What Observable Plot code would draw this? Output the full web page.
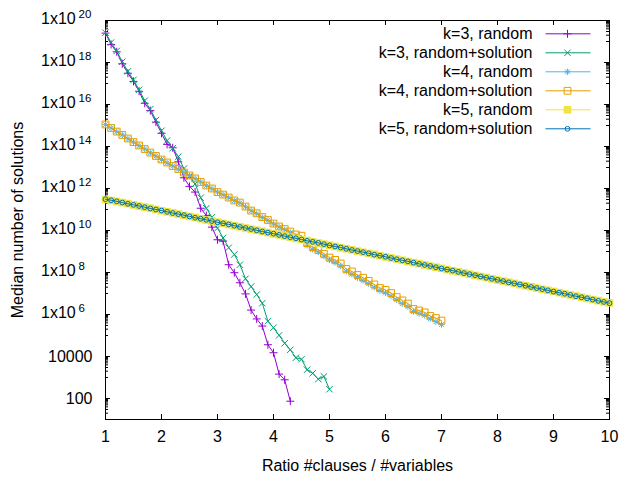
<!DOCTYPE html>
<html>
<head>
<meta charset="utf-8">
<script src="https://cdn.jsdelivr.net/npm/d3@7"></script>
<script src="https://cdn.jsdelivr.net/npm/@observablehq/plot@0.6"></script>
<style>
  html, body { margin: 0; padding: 0; background: #fff; }
  svg { display: block; }
</style>
</head>
<body>
<div id="chart"></div>
<script>
// ---- Data ----
const ratio = [
  1.0, 1.1, 1.2, 1.3, 1.4, 1.5, 1.6, 1.7, 1.8, 1.9,
  2.0, 2.1, 2.2, 2.3, 2.4, 2.5, 2.6, 2.7, 2.8, 2.9,
  3.0, 3.1, 3.2, 3.3, 3.4, 3.5, 3.6, 3.7, 3.8, 3.9,
  4.0, 4.1, 4.2, 4.3, 4.4, 4.5, 4.6, 4.7, 4.8, 4.9,
  5.0, 5.1, 5.2, 5.3, 5.4, 5.5, 5.6, 5.7, 5.8, 5.9,
  6.0, 6.1, 6.2, 6.3, 6.4, 6.5, 6.6, 6.7, 6.8, 6.9,
  7.0, 7.1, 7.2, 7.3, 7.4, 7.5, 7.6, 7.7, 7.8, 7.9,
  8.0, 8.1, 8.2, 8.3, 8.4, 8.5, 8.6, 8.7, 8.8, 8.9,
  9.0, 9.1, 9.2, 9.3, 9.4, 9.5, 9.6, 9.7, 9.8, 9.9,
  10.0
];

const seriesNames = [
  "k=3, random",
  "k=3, random+solution",
  "k=4, random",
  "k=4, random+solution",
  "k=5, random",
  "k=5, random+solution"
];
const seriesColors = ["#9400d3", "#009e73", "#56b4e9", "#e69f00", "#f0e442", "#0072b2"];

// log10 of the median number of solutions, one value per ratio step
const k3RandomLog10 = [
  19.40, 18.86, 18.51, 17.94, 17.49, 17.10, 16.63, 16.06, 15.71, 15.16,
  14.63, 14.10, 13.94, 13.27, 12.51, 12.10, 11.83, 11.06, 10.71, 10.16,
  9.56, 9.49, 8.37, 7.99, 7.51, 6.98, 6.21, 5.79, 5.45, 4.56,
  4.18, 3.16, 2.89, 1.87
];
const k3SolutionLog10 = [
  19.42, 18.95, 18.55, 18.04, 17.58, 17.17, 16.70, 16.18, 15.78, 15.26,
  14.75, 14.28, 13.92, 13.52, 12.95, 12.57, 12.22, 11.56, 11.06, 10.63,
  10.11, 9.65, 9.18, 8.86, 8.37, 7.70, 7.33, 6.95, 6.54, 5.68,
  5.37, 5.01, 4.63, 4.32, 3.94, 3.87, 3.37, 3.20, 2.92, 3.05,
  2.44
];
const k4RandomLog10 = [
  15.04, 14.88, 14.70, 14.55, 14.37, 14.21, 14.04, 13.88, 13.70, 13.54,
  13.38, 13.22, 13.07, 12.92, 12.76, 12.61, 12.47, 12.31, 12.13, 11.99,
  11.83, 11.70, 11.56, 11.42, 11.31, 11.13, 10.94, 10.80, 10.62, 10.48,
  10.31, 10.17, 10.04, 9.90, 9.72, 9.62, 9.30, 9.10, 8.98, 8.78,
  8.60, 8.48, 8.31, 8.06, 7.92, 7.76, 7.62, 7.47, 7.30, 7.14,
  7.03, 6.88, 6.70, 6.52, 6.38, 6.14, 6.05, 5.96, 5.80, 5.66,
  5.52
];
const k4SolutionLog10 = [
  15.05, 14.88, 14.71, 14.55, 14.38, 14.21, 14.05, 13.88, 13.71, 13.55,
  13.38, 13.24, 13.07, 12.93, 12.76, 12.62, 12.48, 12.31, 12.14, 12.00,
  11.83, 11.71, 11.57, 11.43, 11.33, 11.14, 10.95, 10.82, 10.64, 10.50,
  10.33, 10.19, 10.07, 9.95, 9.81, 9.75, 9.40, 9.21, 9.07, 8.89,
  8.71, 8.60, 8.43, 8.17, 8.05, 7.88, 7.75, 7.60, 7.43, 7.26,
  7.17, 7.02, 6.83, 6.67, 6.52, 6.26, 6.19, 6.10, 5.93, 5.83,
  5.71
];
const k5RandomLog10 = [
  11.48, 11.43, 11.38, 11.33, 11.28, 11.22, 11.16, 11.11, 11.06, 11.00,
  10.94, 10.89, 10.84, 10.78, 10.72, 10.67, 10.62, 10.56, 10.50, 10.45,
  10.40, 10.34, 10.28, 10.23, 10.18, 10.12, 10.06, 10.01, 9.96, 9.90,
  9.84, 9.79, 9.74, 9.68, 9.62, 9.57, 9.52, 9.46, 9.40, 9.35,
  9.30, 9.24, 9.18, 9.13, 9.08, 9.02, 8.96, 8.91, 8.86, 8.80,
  8.74, 8.69, 8.64, 8.58, 8.52, 8.47, 8.42, 8.36, 8.30, 8.25,
  8.20, 8.14, 8.08, 8.03, 7.98, 7.92, 7.86, 7.81, 7.76, 7.70,
  7.64, 7.59, 7.54, 7.48, 7.42, 7.37, 7.32, 7.26, 7.20, 7.15,
  7.10, 7.04, 6.98, 6.93, 6.88, 6.82, 6.76, 6.71, 6.66, 6.60,
  6.55
];
const k5SolutionLog10 = [
  11.49, 11.44, 11.39, 11.33, 11.27, 11.22, 11.17, 11.11, 11.05, 11.00,
  10.95, 10.89, 10.83, 10.78, 10.73, 10.67, 10.61, 10.56, 10.51, 10.45,
  10.39, 10.34, 10.29, 10.23, 10.17, 10.12, 10.07, 10.01, 9.95, 9.90,
  9.85, 9.79, 9.73, 9.68, 9.63, 9.57, 9.51, 9.46, 9.41, 9.35,
  9.29, 9.24, 9.19, 9.13, 9.07, 9.02, 8.97, 8.91, 8.85, 8.80,
  8.75, 8.69, 8.63, 8.58, 8.53, 8.47, 8.41, 8.36, 8.31, 8.25,
  8.19, 8.14, 8.09, 8.03, 7.97, 7.92, 7.87, 7.81, 7.75, 7.70,
  7.65, 7.59, 7.53, 7.48, 7.43, 7.37, 7.31, 7.26, 7.21, 7.15,
  7.09, 7.04, 6.99, 6.93, 6.87, 6.82, 6.77, 6.71, 6.65, 6.60,
  6.54
];

// ---- Tick labels ----
const xTickValues = [1, 2, 3, 4, 5, 6, 7, 8, 9, 10];
const xTickLabels = ["1", "2", "3", "4", "5", "6", "7", "8", "9", "10"];
const yTickValues = [1e2, 1e4, 1e6, 1e8, 1e10, 1e12, 1e14, 1e16, 1e18, 1e20];
const yTickBase = ["100", "10000", "1x10", "1x10", "1x10", "1x10", "1x10", "1x10", "1x10", "1x10"];
const yTickExponent = ["", "", "6", "8", "10", "12", "14", "16", "18", "20"];
const yMinorDecades = [1e1, 1e3, 1e5, 1e7, 1e9, 1e11, 1e13, 1e15, 1e17, 1e19];
const yMinorMultipliers = [1, 2, 3, 4, 5, 6, 7, 8, 9];

const xTitle = "Ratio #clauses / #variables";
const yTitle = "Median number of solutions";

// ---- Build tables ----
const seriesLog10 = [k3RandomLog10, k3SolutionLog10, k4RandomLog10, k4SolutionLog10, k5RandomLog10, k5SolutionLog10];
const seriesData = seriesLog10.map((vals, s) =>
  vals.map((v, i) => ({series: seriesNames[s], ratio: ratio[i], value: Math.pow(10, v)}))
);
const xTicks = xTickValues.map((v, i) => ({v, label: xTickLabels[i]}));
const yTicks = yTickValues.map((v, i) => ({v, base: yTickBase[i], exp: yTickExponent[i]}));
const yMinor = yMinorDecades.flatMap(d => yMinorMultipliers.map(m => d * m));

// ---- Point symbols (gnuplot style) ----
const rad = size => Math.sqrt(size / Math.PI);
const symPlus = {draw(c, s) { const r = rad(s); c.moveTo(-r, 0); c.lineTo(r, 0); c.moveTo(0, -r); c.lineTo(0, r); }};
const symCross = {draw(c, s) { const r = rad(s); c.moveTo(-r, -r); c.lineTo(r, r); c.moveTo(-r, r); c.lineTo(r, -r); }};
const symStar = {draw(c, s) { const r = rad(s), q = r * 0.75;
  c.moveTo(-r, 0); c.lineTo(r, 0); c.moveTo(0, -r); c.lineTo(0, r);
  c.moveTo(-q, -q); c.lineTo(q, q); c.moveTo(-q, q); c.lineTo(q, -q); }};
const symSquare = {draw(c, s) { const r = rad(s); c.moveTo(-r, -r); c.lineTo(r, -r); c.lineTo(r, r); c.lineTo(-r, r); c.closePath(); }};
const symCircle = {draw(c, s) { const r = rad(s); c.moveTo(r, 0); c.arc(0, 0, r, 0, 2 * Math.PI); c.closePath(); }};
const symHLine = {draw(c, s) { const r = rad(s); c.moveTo(-r, 0); c.lineTo(r, 0); }};

const seriesStyle = [
  {symbol: symPlus, r: 4.0, filled: false},
  {symbol: symCross, r: 3.2, filled: false},
  {symbol: symStar, r: 3.2, filled: false},
  {symbol: symSquare, r: 3.4, filled: false},
  {symbol: symSquare, r: 3.8, filled: true},
  {symbol: symCircle, r: 2.4, filled: false}
];

// ---- Layout ----
const W = 640, H = 480, mL = 105, mR = 31, mT = 20, mB = 61;
const fw = W - mL - mR, fh = H - mT - mB;
const major = 5, minor = 3;

const marks = [];
marks.push(Plot.frame({stroke: "black", strokeWidth: 1}));
// ticks (inward, mirrored)
marks.push(Plot.tickX(xTickValues, {x: d => d, insetTop: fh - major, stroke: "black"}));
marks.push(Plot.tickX(xTickValues, {x: d => d, insetBottom: fh - major, stroke: "black"}));
marks.push(Plot.tickY(yTickValues, {y: d => d, insetRight: fw - major, stroke: "black"}));
marks.push(Plot.tickY(yTickValues, {y: d => d, insetLeft: fw - major, stroke: "black"}));
marks.push(Plot.tickY(yMinor, {y: d => d, insetRight: fw - minor, stroke: "black"}));
marks.push(Plot.tickY(yMinor, {y: d => d, insetLeft: fw - minor, stroke: "black"}));

// tick labels
marks.push(Plot.text(xTicks, {x: "v", text: "label", frameAnchor: "bottom", lineAnchor: "middle", textAnchor: "middle", dy: 17, fontSize: 16, fill: "black"}));
marks.push(Plot.text(yTicks.filter(d => !d.exp), {y: "v", text: "base", frameAnchor: "left", lineAnchor: "middle", textAnchor: "end", dx: -13, fontSize: 16, fill: "black"}));
marks.push(Plot.text(yTicks.filter(d => d.exp), {y: "v", text: "base", frameAnchor: "left", lineAnchor: "middle", textAnchor: "start", dx: -64.5, dy: -2, fontSize: 16, fill: "black"}));
marks.push(Plot.text(yTicks.filter(d => d.exp), {y: "v", text: "exp", frameAnchor: "left", lineAnchor: "middle", textAnchor: "start", dx: -27, dy: -6, fontSize: 11.5, fill: "black"}));

// axis titles
marks.push(Plot.text([xTitle], {text: d => d, frameAnchor: "bottom", lineAnchor: "middle", textAnchor: "middle", dy: 46, fontSize: 16, fill: "black"}));
marks.push(Plot.text([yTitle], {text: d => d, frameAnchor: "left", lineAnchor: "middle", textAnchor: "middle", dx: -88, rotate: -90, fontSize: 16, fill: "black"}));

// series
seriesData.forEach((data, s) => {
  const st = seriesStyle[s], col = seriesColors[s];
  marks.push(Plot.line(data, {x: "ratio", y: "value", stroke: col, strokeWidth: 1}));
  marks.push(Plot.dot(data, {
    x: "ratio", y: "value", symbol: st.symbol, r: st.r,
    fill: st.filled ? col : "none", stroke: st.filled ? "none" : col, strokeWidth: 1
  }));
});

// legend (top right inside the frame)
seriesNames.forEach((name, s) => {
  const st = seriesStyle[s], col = seriesColors[s];
  const dy = 13.3 + 19 * s;
  marks.push(Plot.text([name], {text: d => d, frameAnchor: "top-right", lineAnchor: "middle", textAnchor: "end", dx: -77, dy, fontSize: 16, fill: "black"}));
  marks.push(Plot.dot([name], {frameAnchor: "top-right", dx: -41.5, dy, symbol: symHLine, r: 22.5, stroke: col, strokeWidth: 1, fill: "none"}));
  marks.push(Plot.dot([name], {frameAnchor: "top-right", dx: -42, dy, symbol: st.symbol, r: st.r,
    fill: st.filled ? col : "none", stroke: st.filled ? "none" : col, strokeWidth: 1}));
});

const chart = Plot.plot({
  width: W, height: H,
  marginLeft: mL, marginRight: mR, marginTop: mT, marginBottom: mB,
  style: {fontFamily: "'Liberation Sans', Arial, sans-serif", fontSize: "16px", background: "white", color: "black", overflow: "visible"},
  x: {type: "linear", domain: [1, 10], axis: null},
  y: {type: "log", domain: [10, 1e20], axis: null},
  marks
});
document.getElementById("chart").appendChild(chart);
</script>
</body>
</html>
